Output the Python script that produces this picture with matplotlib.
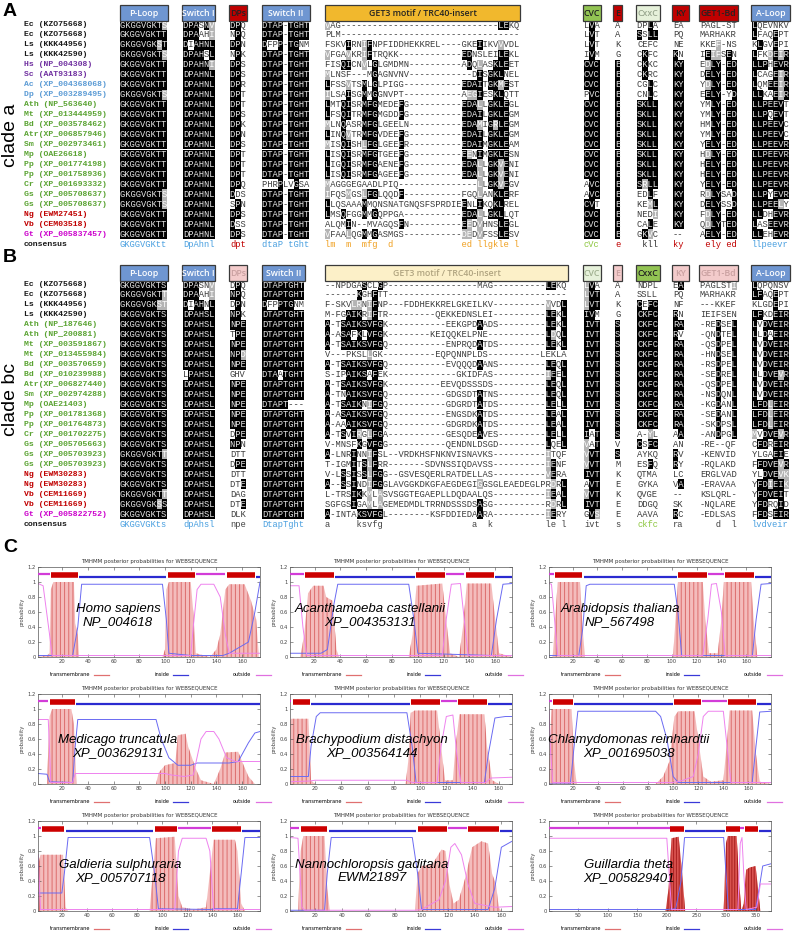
import matplotlib.pyplot as plt
from matplotlib.patches import Rectangle
from matplotlib.lines import Line2D
from collections import Counter

W, H = 794, 931

# ---------------- panel A : clade a ----------------
A_labels = ["Ec (KZO75668)", "Ec (KZO75668)", "Ls (KKK44956)", "Ls (KKK42590)",
            "Hs (NP_004308)", "Sc (AAT93183)", "Ac (XP_004368068)", "Dp (XP_003289495)",
            "Ath (NP_563640)", "Mt (XP_013444959)", "Bd (XP_003578462)", "Atr(XP_006857946)",
            "Sm (XP_002973461)", "Mp (OAE26618)", "Pp (XP_001774198)", "Pp (XP_001758936)",
            "Cr (XP_001693332)", "Gs (XP_005708637)", "Gs (XP_005708637)", "Ng (EWM27451)",
            "Vb (CEM03518)", "Gt (XP_005837457)"]
A_groups = ["bac"] * 4 + ["opi"] * 2 + ["amo"] * 2 + ["pla"] * 11 + ["het"] * 2 + ["cry"]

A_ploop = ["GKGGVGKTS", "GKGGVGKTT", "GKGGVGKST", "GKGGVGKTS", "GKGGVGKTT", "GKGGVGKTT",
           "GKGGVGKTT", "GKGGVGKTS"] + ["GKGGVGKTT"] * 9 + ["GKGGVGKTS", "GKGGVGKTS",
           "GKGGVGKTT", "GKGGVGKTT", "GKGGVGKTT"]
A_sw1 = ["DPASNV", "DPAAHI", "DIAHNL", "DPAHSL", "DPAHNI"] + ["DPAHNL"] * 17
A_dps = ["DPQ", "NPQ", "DPN", "NPK", "DPS", "DPS", "DPR", "DPT", "DPT", "DPS", "DPK",
         "DPN", "DPS", "DPT", "DPT", "DPT", "DPQ", "DDS", "SPN", "DPS", "DSS", "DPS"]
A_sw2 = ["DTAP-TGHT"] * 2 + ["DFPP-TGNM"] + ["DTAP-TGHT"] * 13 + ["PHRPLVGSA"] + ["DTAP-TGHT"] * 5
A_get3 = [
    "VAG" + "-" * 30 + "LEKQ",
    "PLM" + "-" * 34,
    "FSKVIRNIFNPFIDDHEKKREL----GKEIIKVVVDL",
    "VFGAVKRIFTRQKK" + "-" * 12 + "EDNSLEILEKL",
    "FISQICNVLGLGMDMN" + "-" * 10 + "ADQLASKLEET",
    "MLNSF---MGAGNVNV" + "-" * 12 + "DISGKLNEL",
    "LFSSVTSMLGLPIGG" + "-" * 11 + "EDAITGKMEST",
    "ILSAISGMMGGNVPT" + "-" * 11 + "AEGIESKLQTT",
    "LMTQISRMFGMEDEFG" + "-" * 10 + "EDALLGKLEGL",
    "LFSQITRMFGMGDDFG" + "-" * 10 + "EDAILGKLEGM",
    "MLNQASRMFGLGEELN" + "-" * 10 + "EDAMIGRLEGM",
    "LINQVTRMFGVDEEFG" + "-" * 10 + "EDAILGKLEGM",
    "MISQISHLFGLGEEFR" + "-" * 10 + "EDAIMGKLEAM",
    "LISQISRMFGTGEEFG" + "-" * 10 + "EENIMGKLESN",
    "LIGQISRMFGAENEFG" + "-" * 10 + "EDALLGKVENI",
    "LISQISRMFGAGEEFG" + "-" * 10 + "EDALLGKVENI",
    "MAGGGEGAADLPIQ" + "-" * 15 + "LLGKVEGV",
    "IFQSMGSLFGLQQDF" + "-" * 11 + "FGQLANKLERF",
    "LLQSAAAMMQNSNATGNQSFSPRDIEENLIKQKLREL",
    "LMSQFGGMMGQPPGA" + "-" * 11 + "EDALLGKLLQT",
    "ALQMIN--MVAGQSFN" + "-" * 10 + "EEDVHNSLEGL",
    "VFAALQGMMGASMGS" + "-" * 11 + "DEDVFSSLESV",
]
A_cvc = ["LVA", "LVT", "LVT", "IVM", "CVC", "CVC", "CVC", "PVC"] + ["CVC"] * 8 + \
        ["AVC", "AVC", "CVT", "CVC", "CVC", "CVC"]
A_e = ["A", "A", "K", "G"] + ["E"] * 18
A_cxxc = ["DPLA", "SSLL", "CEFC", "CKFC", "CKKC", "CKRC", "CGLC", "CNLC"] + ["SKLL"] * 8 + \
         ["SRLL", "EDLF", "KEML", "NEDI", "CALE", "GKVC"]
A_ky = ["EA", "PQ", "NE", "KN"] + ["KY"] * 17 + ["--"]
A_get1 = ["PAGL-ST", "MARHAKR", "KKEF-NS", "IEIFSEN", "EDLY-ED", "DELY-ED", "YDLY-ED",
          "EELY-YD", "YMLY-ED", "YMLY-ED", "HMLY-ED", "YMLY-ED", "YELY-ED", "HDLY-ED",
          "HELY-ED", "HELY-ED", "YELY-ED", "RDLYSAD", "DELYSSD", "FDLY-ED", "QDLYTED", "AELY-ED"]
A_aloop = ["LQEVNKV", "LFAQEPT", "KLGVEPI", "LFKDEIR", "LLPHEVR", "LCAGEIR", "LQMEEIR",
           "LLKAEIR", "LLPEEVT", "LLPQEVT", "LLPEEVC", "LLPEEVC"] + ["LLPEEVR"] * 5 + \
          ["LLPYEVR", "LLPEELY", "LLDHEVR", "LASEEVR", "LLEHEVR"]
A_consensus = ["GKGGVGKtt", "DpAhnl", "dpt", "dtaP tGht",
               "lm  m  mfg  d" + " " * 13 + "ed llgkle l", "cVc", "e", " kll", "ky",
               " ely ed", "llpeevr"]
A_headers = ["P-Loop", "Switch I", "DPs", "Switch II", "GET3 motif / TRC40-insert", "CVC",
             "E", "CxxC", "KY", "GET1-Bd", "A-Loop"]

# ---------------- panel B : clade bc ----------------
B_labels = ["Ec (KZO75668)", "Ec (KZO75668)", "Ls (KKK44956)", "Ls (KKK42590)",
            "Ath (NP_187646)", "Ath (NP_200881)", "Mt (XP_003591867)", "Mt (XP_013455984)",
            "Bd (XP_003570659)", "Bd (XP_010239988)", "Atr(XP_006827440)", "Sm (XP_002974288)",
            "Mp (OAE21403)", "Pp (XP_001781368)", "Pp (XP_001764873)", "Cr (XP_001702275)",
            "Gs (XP_005705663)", "Gs (XP_005703923)", "Gs (XP_005703923)", "Ng (EWM30283)",
            "Ng (EWM30283)", "Vb (CEM11669)", "Vb (CEM11669)", "Gt (XP_005822752)"]
B_groups = ["bac"] * 4 + ["pla"] * 15 + ["het"] * 4 + ["cry"]

B_ploop = ["GKGGVGKTS", "GKGGVGKTT", "GKGGVGKST"] + ["GKGGVGKTS"] * 14 + \
          ["GKGGVGKTT", "GKGGVGKTS", "GKGGVGKTS", "GKGGVGKTS", "GKGGVGKTT", "GKGGVGKSS", "GKGGVGKTS"]
B_sw1 = ["DPASNV", "DPAAHI", "DIAHNL"] + ["DPAHSL"] * 6 + ["LPAHSL"] + ["DPAHSL"] * 14
B_dps = ["DPQ", "NPQ", "DPN", "NPK", "NPE", "TPE", "NPE", "NPD", "NPE", "GHV", "NPE", "NPE",
         "NPE", "NPE", "NPE", "DPE", "NPN", "DTT", "DPE", "DTT", "DTE", "DAG", "DTE", "DLK"]
B_sw2 = ["DTAPTGHT"] * 2 + ["DFPPTGNM"] + ["DTAPTGHT"] * 6 + ["DTAATGHT"] + \
        ["DTAPTGHT"] * 2 + ["DTAPT---"] + ["DTAPTGHT"] * 11
B_get3 = [
    "--NPDGASCLGP" + "-" * 17 + "MAG" + "-" * 10 + "LEKQ",
    "------KGHFTT" + "-" * 34,
    "F-SKVLRNIFNP" + "---FDDHEKKRELGKEILKV" + "-" * 10 + "VVDL",
    "M-FGAIKRIFTR" + "-" * 9 + "QEKKEDNSLEI" + "-" * 10 + "LEKL",
    "A-TSAIKSVFGK" + "-" * 11 + "EEKGPDAADS" + "-" * 9 + "LEKL",
    "A-ASAFKLVFGK" + "-" * 8 + "KEIQQKELPNE" + "-" * 11 + "LDQL",
    "A-TSAIKSVFGQ" + "-" * 11 + "ENPRQDATDS" + "-" * 9 + "LEKL",
    "V---PKSLLGK-" + "-" * 9 + "EQPQNNPLDS" + "-" * 10 + "LEKLA",
    "A-TSAIKSVFGQ" + "-" * 11 + "EVQQQDAANS" + "-" * 9 + "LEQL",
    "S-IPAIKSAFEK" + "-" * 13 + "GKIDFAS" + "-" * 10 + "IEEL",
    "A-TSAIKSVFGK" + "-" * 10 + "EEVQDSSSDS" + "-" * 10 + "LEQL",
    "A-TNAIKSVFGQ" + "-" * 11 + "GDGSDTATNS" + "-" * 9 + "LEQL",
    "A-TSAIKNIFGQ" + "-" * 11 + "GDGRDTATDS" + "-" * 9 + "LELL",
    "A-ASAIKSVFGQ" + "-" * 11 + "ENGSDKATDS" + "-" * 9 + "LEAL",
    "A-AAAIKSVFGQ" + "-" * 11 + "GDGRDKATDS" + "-" * 9 + "LEAL",
    "A-TSVIRGLFGA" + "-" * 11 + "GESQDEAVES" + "-" * 9 + "LELL",
    "V-MNSFKGVFGG" + "-" * 11 + "QENDNLDSGD" + "-" * 9 + "LQEL",
    "A-LNRINNIFSL" + "--VRDKHSFNKNVISNAVKS" + "-" * 10 + "ITQF",
    "T-IGMITSLFRR" + "-------SDVNSSIQDAVSS" + "-" * 10 + "IENF",
    "V-LSSISSLFGG" + "--GSVESQERLRATDELLAS" + "-" * 10 + "VERA",
    "A--SSINDIFGG" + "LAVGGKDKGFAEGDEGIGGSGLEAEDEGLPRDRL",
    "L-TRSIKKMLAS" + "VSGGTEGAEPLLDQDAALQS" + "-" * 10 + "IEAL",
    "SGFGSIGAMLAG" + "EMEDMDLTRRNDSSSDSASG" + "-" * 10 + "RDRL",
    "A-INTAKSVFGL" + "-" * 8 + "KSFDDIEDAARA" + "-" * 10 + "IERY",
]
B_cvc = ["LVA", "LVT", "LVT", "IVM"] + ["IVT"] * 11 + ["IAT", "VAT", "VVT", "VVT", "IVT",
         "AVT", "VVT", "IVT", "GVS"]
B_e = ["A", "A", "K", "G"] + ["S"] * 12 + ["V", "S", "M", "K", "E", "K", "E", "E"]
B_cxxc = ["NDPL", "SSLL", "CEFC"] + ["CKFC"] * 12 + ["A-YL", "CSFC", "AYKQ", "ESFQ", "QTMA",
          "GYKA", "QVGE", "DDGQ", "AAVA"]
B_ky = ["EA", "PQ", "NF", "RN", "RA", "RV"] + ["RA"] * 9 + ["AA", "AN", "RV", "RY", "LC",
        "VA", "--", "SK", "RC"]
B_get1 = ["PAGLSTI", "MARHAKR", "---KKEF", "IEIFSEN", "-REDSEL", "-QNDTEL", "-QSDPEL",
          "-HNDSEL", "-RSDPEL", "-SEDREL", "-QSDPEL", "-NSDQNL", "-KGDANL", "-SEDANL",
          "-SKDPSL", "-ANDPGL", "-RE--QF", "-KENVID", "-RQLAKD", "ERGLVAD", "-ERAVAA",
          "KSLQRL-", "-NQLARE", "-EDLSAS"]
B_aloop = ["LQPQNSV", "LFAQEPT", "KLGDEPI", "LFKDEIR", "LVDVEIR", "LLDAEIR", "LVDVEIR",
           "LVDVEIR", "LVDVEIR", "LLDVEVR", "LVDVEIR", "LVDVEIR", "LFDLEIR", "LFDLEIR",
           "LFDLEIR", "MVDVEVR", "CFDREIR", "YLGAEIE", "FFDVEVR", "YLDVEVK", "YFDIEIK",
           "YFDVEIT", "YFDRQID", "FFDSEIR"]
B_consensus = ["GKGGVGKts", "dpAhsl", "npe", "DtapTght",
               "a" + " " * 5 + "ksvfg" + " " * 17 + "a  k" + " " * 10 + "le l",
               "ivt", "s", "ckfc", "ra", "   d  l", "lvdveir"]

# ---------------- panel C : TMHMM posteriors ----------------
hs_name, hs_acc, hs_len = "Homo sapiens", "NP_004618", 174
hs_topo = [(1, 10, "o"), (11, 32, "t"), (33, 101, "i"), (102, 123, "t"), (124, 147, "o"),
           (148, 170, "t"), (171, 174, "i")]
hs_tm = [(1, 0), (8, 0.02), (10, 0.05), (11, 0.9), (13, 1), (29, 1), (30, 0.45), (32, 0.3),
         (33, 0), (98, 0), (100, 0.1), (101, 0.9), (103, 1), (120, 1), (122, 0.6), (124, 0.05),
         (135, 0), (140, 0.1), (143, 0.3), (147, 0.9), (150, 0.97), (162, 0.97), (167, 0.75),
         (171, 0.5), (173, 0.05)]
hs_in = [(1, 0.02), (28, 0.02), (32, 0.4), (35, 0.97), (98, 0.97), (101, 0.5), (103, 0.05),
         (120, 0.02), (145, 0.02), (150, 0.05), (165, 0.2), (170, 0.6), (174, 1.0)]
hs_out = [(1, 0.98), (5, 0.95), (10, 0.3), (12, 0.02), (120, 0.02), (122, 0.4), (125, 0.9),
          (128, 0.97), (138, 0.97), (143, 0.8), (147, 0.3), (150, 0.05), (174, 0.05)]

ac_name, ac_acc, ac_len = "Acanthamoeba castellanii", "XP_004353131", 173
ac_topo = [(1, 12, "o"), (13, 35, "t"), (36, 98, "i"), (99, 121, "t"), (122, 136, "o"),
           (137, 159, "t"), (160, 173, "i")]
ac_tm = [(1, 0), (9, 0), (12, 0.3), (15, 0.85), (19, 0.95), (27, 0.95), (29, 0.8), (34, 0.75),
         (37, 0.1), (39, 0), (93, 0), (96, 0.3), (99, 0.95), (119, 0.98), (122, 0.5),
         (125, 0.05), (132, 0), (135, 0.4), (138, 0.98), (157, 0.98), (160, 0.5), (163, 0.05),
         (173, 0)]
ac_in = [(1, 0.05), (25, 0.05), (30, 0.1), (35, 0.7), (38, 0.97), (93, 0.97), (97, 0.5),
         (100, 0.05), (157, 0.02), (161, 0.5), (166, 0.97), (173, 0.98)]
ac_out = [(1, 0.95), (8, 0.95), (11, 0.4), (14, 0.02), (119, 0.02), (122, 0.5), (126, 0.97),
          (133, 0.98), (136, 0.5), (139, 0.02), (173, 0.02)]

at_name, at_acc, at_len = "Arabidopsis thaliana", "NP_567498", 180
at_topo = [(1, 5, "o"), (6, 28, "t"), (29, 104, "i"), (105, 128, "t"), (129, 142, "o"),
           (143, 166, "t"), (167, 180, "i")]
at_tm = [(1, 0), (4, 0), (6, 0.5), (8, 1.0), (26, 1.0), (28, 0.4), (30, 0), (101, 0),
         (103, 0.5), (105, 1), (125, 1), (127, 0.5), (130, 0.05), (137, 0.05), (140, 0.5),
         (142, 1), (164, 1), (166, 0.5), (169, 0), (180, 0)]
at_in = [(1, 0.02), (25, 0.02), (28, 0.35), (31, 0.95), (34, 0.97), (102, 0.97), (105, 0.6),
         (108, 0.02), (165, 0.02), (168, 0.5), (172, 0.97), (180, 0.98)]
at_out = [(1, 0.98), (3, 0.97), (6, 0.4), (8, 0.02), (125, 0.02), (129, 0.5), (132, 0.97),
          (136, 0.98), (140, 0.6), (143, 0.02), (180, 0.02)]

mt_name, mt_acc, mt_len = "Medicago truncatula", "XP_003629131", 174
mt_topo = [(1, 9, "o"), (10, 30, "t"), (31, 174, "i")]
mt_tm = [(1, 0), (8, 0), (10, 0.9), (12, 1), (27, 1), (29, 0.8), (31, 0), (93, 0), (95, 0.15),
         (100, 0.25), (108, 0.28), (110, 0.65), (116, 0.67), (118, 0.5), (124, 0.2), (128, 0.05),
         (138, 0), (143, 0.2), (147, 0.42), (157, 0.43), (160, 0.3), (165, 0.1), (170, 0),
         (174, 0)]
mt_in = [(1, 0.14), (8, 0.13), (10, 0.03), (28, 0.02), (30, 0.5), (32, 0.86), (93, 0.86),
         (97, 0.6), (103, 0.35), (110, 0.25), (120, 0.25), (125, 0.28), (150, 0.28), (157, 0.3),
         (165, 0.55), (170, 0.68), (174, 0.7)]
mt_out = [(1, 0.86), (9, 0.86), (11, 0.02), (28, 0.02), (30, 0.14), (100, 0.14), (105, 0.12),
          (115, 0.1), (122, 0.12), (128, 0.6), (132, 0.7), (138, 0.7), (142, 0.6), (148, 0.35),
          (155, 0.3), (174, 0.3)]

bd_name, bd_acc, bd_len = "Brachypodium distachyon", "XP_003564144", 170
bd_topo = [(1, 2, "o"), (3, 16, "t"), (17, 92, "i"), (93, 115, "t"), (116, 128, "o"),
           (129, 151, "t"), (152, 170, "i")]
bd_tm = [(1, 0.85), (2, 0.87), (15, 0.87), (17, 0.05), (20, 0), (89, 0), (91, 0.3), (93, 0.95),
         (96, 0.98), (113, 0.98), (116, 0.5), (119, 0.05), (125, 0.05), (127, 0.5), (130, 0.93),
         (149, 0.93), (151, 0.5), (155, 0.05), (160, 0), (170, 0)]
bd_in = [(1, 0.1), (15, 0.1), (17, 0.5), (21, 0.9), (24, 0.95), (90, 0.95), (94, 0.5),
         (97, 0.02), (149, 0.02), (152, 0.4), (157, 0.88), (165, 0.9), (170, 0.9)]
bd_out = [(1, 0.03), (16, 0.04), (20, 0.05), (90, 0.05), (94, 0.02), (113, 0.02), (116, 0.5),
          (120, 0.9), (125, 0.92), (128, 0.4), (131, 0.02), (150, 0.02), (154, 0.08), (170, 0.09)]

cr_name, cr_acc, cr_len = "Chlamydomonas reinhardtii", "XP_001695038", 178
cr_topo = [(1, 3, "o"), (4, 20, "t"), (21, 100, "i"), (101, 122, "t"), (123, 143, "o"),
           (144, 166, "t"), (167, 178, "i")]
cr_tm = [(1, 0.3), (3, 1), (19, 1), (21, 0.3), (23, 0), (86, 0), (92, 0.1), (97, 0.3),
         (101, 0.9), (104, 0.97), (117, 0.97), (120, 0.6), (124, 0.1), (130, 0.03), (140, 0.05),
         (142, 0.4), (145, 0.98), (163, 0.98), (166, 0.4), (169, 0.03), (178, 0)]
cr_in = [(1, 0), (18, 0), (21, 0.5), (24, 0.97), (86, 0.97), (90, 0.9), (95, 0.6), (100, 0.1),
         (104, 0.02), (163, 0.02), (166, 0.5), (169, 0.96), (178, 0.97)]
cr_out = [(1, 0.98), (2, 0.5), (4, 0.02), (100, 0.02), (108, 0.05), (116, 0.1), (120, 0.4),
          (124, 0.9), (128, 0.97), (140, 0.97), (143, 0.5), (146, 0.02), (178, 0.02)]

gs_name, gs_acc, gs_len = "Galdieria sulphuraria", "XP_005707118", 178
gs_topo = [(1, 3, "o"), (4, 22, "t"), (23, 93, "i"), (94, 112, "t"), (113, 139, "o"),
           (140, 163, "t"), (164, 178, "i")]
gs_tm = [(1, 0.6), (3, 0.75), (21, 0.75), (23, 0.05), (25, 0), (90, 0), (92, 0.4), (95, 0.97),
         (110, 0.99), (113, 0.2), (116, 0.05), (125, 0.02), (135, 0.05), (138, 0.5), (141, 0.95),
         (158, 0.95), (160, 0.8), (163, 0.1), (166, 0), (178, 0)]
gs_in = [(1, 0.24), (20, 0.24), (22, 0.5), (25, 0.98), (90, 0.98), (94, 0.5), (97, 0.03),
         (138, 0.02), (143, 0.03), (160, 0.03), (163, 0.5), (166, 0.98), (178, 0.98)]
gs_out = [(1, 0.75), (3, 0.02), (92, 0.02), (110, 0.02), (113, 0.8), (116, 0.97), (135, 0.97),
          (138, 0.8), (141, 0.02), (178, 0.02)]

ng_name, ng_acc, ng_len = "Nannochloropsis gaditana", "EWM21897", 168
ng_topo = [(1, 8, "o"), (9, 29, "t"), (30, 96, "i"), (97, 119, "t"), (120, 134, "o"),
           (135, 158, "t"), (159, 168, "i")]
ng_tm = [(1, 0), (7, 0), (9, 0.8), (11, 1), (27, 1), (29, 0.3), (31, 0), (95, 0), (97, 0.5),
         (100, 0.6), (108, 0.62), (115, 0.82), (118, 0.8), (121, 0.35), (124, 0.1), (128, 0.15),
         (133, 0.45), (138, 0.85), (145, 0.93), (150, 0.9), (153, 0.5), (156, 0.35), (158, 0.05),
         (160, 0), (168, 0)]
ng_in = [(1, 0.01), (27, 0.01), (29, 0.5), (32, 0.98), (93, 0.98), (97, 0.5), (100, 0.02),
         (150, 0.02), (155, 0.3), (160, 0.85), (168, 0.93)]
ng_out = [(1, 0.98), (7, 0.97), (10, 0.05), (12, 0.01), (95, 0.01), (100, 0.02), (113, 0.15),
          (118, 0.4), (122, 0.85), (125, 0.9), (130, 0.75), (135, 0.35), (140, 0.1), (155, 0.05),
          (168, 0.06)]

gt_name, gt_acc, gt_len = "Guillardia theta", "XP_005829401", 376
gt_topo = [(1, 205, "o"), (206, 229, "t"), (230, 299, "i"), (300, 323, "t"), (324, 331, "o"),
           (332, 354, "t"), (355, 376, "i")]
gt_tm = [(1, 0), (198, 0), (203, 0.3), (208, 0.97), (220, 0.99), (226, 0.5), (231, 0), (296, 0),
         (300, 0.9), (303, 1), (318, 1), (322, 0.4), (326, 0), (330, 0.1), (334, 0.55),
         (340, 0.58), (350, 0.6), (354, 0.3), (358, 0), (376, 0)]
gt_in = [(1, 0.02), (200, 0.02), (215, 0.03), (224, 0.4), (230, 0.98), (296, 0.98), (300, 0.5),
         (304, 0.02), (350, 0.02), (356, 0.3), (362, 0.6), (376, 0.63)]
gt_out = [(1, 0.97), (200, 0.97), (204, 0.5), (208, 0.02), (320, 0.02), (324, 0.9), (327, 0.98),
          (330, 0.5), (334, 0.02), (352, 0.05), (358, 0.36), (376, 0.36)]

# ---------------- style / layout ----------------
MONO = "Liberation Mono"
SANS = "Liberation Sans"
FS = 6.3
LFS = 5.9                          # label font size
CW = 0.6 * FS * 100 / 72          # character advance in pixels
ROW = 9.96
label_colors = {"bac": "#1a1a1a", "opi": "#7030a0", "amo": "#5b9bd5", "pla": "#5aa332",
                "het": "#c00000", "cry": "#cc00cc"}
BLUE, RED, ORANGE, GREEN = "#6f96d1", "#c00000", "#f1b82d", "#92c353"
PINK, PALEY, PALEG = "#f3cbcb", "#fcf0c8", "#e6f1da"
block_x = [120, 183, 230, 262, 325, 584, 615, 637, 673, 700, 752]
A_boxes = [(120, 168, BLUE, "white"), (182, 215, BLUE, "white"), (229, 247, RED, "#222222"),
           (262, 310, BLUE, "white"), (325, 520, ORANGE, "#222222"), (583, 601, GREEN, "#222222"),
           (613, 622, RED, "#222222"), (636, 660, PALEG, "#9aa890"), (672, 689, RED, "#222222"),
           (699, 738, RED, "#222222"), (751, 790, BLUE, "white")]
B_boxes = [(120, 168, BLUE, "white"), (182, 215, BLUE, "white"), (229, 247, PINK, "#c9a0a0"),
           (262, 305, BLUE, "white"), (325, 568, PALEY, "#b0a480"), (583, 601, PALEG, "#a0b090"),
           (613, 622, PINK, "#c9a0a0"), (636, 660, GREEN, "#222222"), (672, 689, PINK, "#c9a0a0"),
           (699, 738, PINK, "#c9a0a0"), (751, 790, BLUE, "white")]
A_cons_colors = ["#4aa0e0", "#4aa0e0", RED, "#4aa0e0", "#f0a020", "#8dc63f", RED, "#333333",
                 RED, RED, "#4aa0e0"]
B_cons_colors = ["#4aa0e0", "#4aa0e0", "#444444", "#4aa0e0", "#444444", "#444444", "#444444",
                 "#8dc63f", "#444444", "#444444", "#4aa0e0"]

SIMILAR = ["FYW", "ILVM", "RK", "DE", "GA", "ST", "NQ"]


def shade(block, thr=0.4):
    n = len(block)
    width = max(len(s) for s in block)
    block = [s.ljust(width, "-") for s in block]
    marks = [[0] * width for _ in block]
    for j in range(width):
        col = [s[j] for s in block]
        res = [c for c in col if c != "-"]
        if not res:
            continue
        top, cnt = Counter(res).most_common(1)[0]
        if cnt < thr * n:
            continue
        grp = next((g for g in SIMILAR if top in g), top)
        for i, c in enumerate(col):
            if c == top:
                marks[i][j] = 2
            elif c != "-" and c in grp:
                marks[i][j] = 1
    return block, marks


def draw_panel(ax, y0, labels, groups, blocks, consensus, cons_colors, boxes, headers, hy):
    for (x0, x1, fc, tc), name in zip(boxes, headers):
        ax.add_patch(Rectangle((x0, hy - 8), x1 - x0, 16, facecolor=fc, edgecolor="#3a3a3a",
                               lw=0.9, zorder=2))
        ax.text((x0 + x1) / 2, hy, name, ha="center", va="center", color=tc, fontsize=6.3,
                family="Open Sans", fontweight="semibold", zorder=3)
    for i, (lab, g) in enumerate(zip(labels, groups)):
        ax.text(24, y0 + i * ROW, lab, family=MONO, fontsize=LFS, fontweight="bold",
                color=label_colors[g], va="center", ha="left")
    ax.text(24, y0 + len(labels) * ROW, "consensus", family=MONO, fontsize=LFS,
            fontweight="bold", color="#1a1a1a", va="center", ha="left")
    for bx, blk, cons, cc in zip(block_x, blocks, consensus, cons_colors):
        seqs, marks = shade(blk)
        for i, (s, m) in enumerate(zip(seqs, marks)):
            y = y0 + i * ROW
            j = 0
            while j < len(s):
                k = j
                while k < len(s) and m[k] == m[j]:
                    k += 1
                if m[j]:
                    ax.add_patch(Rectangle((bx + j * CW, y - ROW / 2), (k - j) * CW, ROW,
                                           facecolor="black" if m[j] == 2 else "#b4b4b4",
                                           lw=0, zorder=1))
                j = k
            for level, col in ((2, "#e4e4e4"), (1, "white"), (0, "#3c3c3c")):
                txt = "".join(c if mk == level else " " for c, mk in zip(s, m))
                if txt.strip():
                    ax.text(bx, y, txt, family=MONO, fontsize=FS, color=col, va="center",
                            ha="left", zorder=3)
        ax.text(bx, y0 + len(labels) * ROW, cons, family=MONO, fontsize=FS, color=cc,
                va="center", ha="left", zorder=3)


fig = plt.figure(figsize=(W / 100, H / 100), dpi=100)
ax0 = fig.add_axes([0, 0, 1, 1])
ax0.set_xlim(0, W)
ax0.set_ylim(H, 0)
ax0.axis("off")

draw_panel(ax0, 25, A_labels, A_groups,
           [A_ploop, A_sw1, A_dps, A_sw2, A_get3, A_cvc, A_e, A_cxxc, A_ky, A_get1, A_aloop],
           A_consensus, A_cons_colors, A_boxes, A_headers, 13)
draw_panel(ax0, 285, B_labels, B_groups,
           [B_ploop, B_sw1, B_dps, B_sw2, B_get3, B_cvc, B_e, B_cxxc, B_ky, B_get1, B_aloop],
           B_consensus, B_cons_colors, B_boxes, A_headers, 273)

for letter, y in (("A", 11), ("B", 257), ("C", 548)):
    ax0.text(3, y, letter, family=SANS, fontsize=14, fontweight="bold", va="center")
ax0.text(11, 135, "clade a", family=SANS, fontsize=14, rotation=90, ha="center", va="center")
ax0.text(11, 400, "clade bc", family=SANS, fontsize=14, rotation=90, ha="center", va="center")

# ---------------- TMHMM grid ----------------
plt.rcParams["hatch.linewidth"] = 0.7
plots = [
    (hs_name, hs_acc, hs_len, hs_topo, hs_tm, hs_in, hs_out),
    (ac_name, ac_acc, ac_len, ac_topo, ac_tm, ac_in, ac_out),
    (at_name, at_acc, at_len, at_topo, at_tm, at_in, at_out),
    (mt_name, mt_acc, mt_len, mt_topo, mt_tm, mt_in, mt_out),
    (bd_name, bd_acc, bd_len, bd_topo, bd_tm, bd_in, bd_out),
    (cr_name, cr_acc, cr_len, cr_topo, cr_tm, cr_in, cr_out),
    (gs_name, gs_acc, gs_len, gs_topo, gs_tm, gs_in, gs_out),
    (ng_name, ng_acc, ng_len, ng_topo, ng_tm, ng_in, ng_out),
    (gt_name, gt_acc, gt_len, gt_topo, gt_tm, gt_in, gt_out),
]
col_left = [38, 290, 549]
row_top = [567, 694, 821]
label_pos = [(0.36, 0.46), (0.36, 0.46), (0.32, 0.46), (0.36, 0.42), (0.37, 0.42),
             (0.36, 0.42), (0.37, 0.44), (0.37, 0.44), (0.36, 0.44)]
topo_style = {"o": (1.11, "#d23cd8", 1.6), "t": (1.09, "#cc0000", 4.0), "i": (1.07, "#2b2bd0", 1.6)}

for k, (name, acc, length, topo, tm, inside, outside) in enumerate(plots):
    left, top = col_left[k % 3], row_top[k // 3]
    ax = fig.add_axes([left / W, 1 - (top + 90) / H, 222 / W, 90 / H])
    dense = length > 250
    tx, ty = zip(*tm)
    ax.fill_between(tx, ty, 0, facecolor="#d9534f" if dense else "#f4bcbc",
                    edgecolor="#a81e1e" if dense else "#dc6c6c",
                    hatch="||||||" if dense else "||||", linewidth=0, zorder=1)
    ax.plot(*zip(*inside), color="#6a6af2", lw=0.7, zorder=2)
    ax.plot(*zip(*outside), color="#ee82ee", lw=0.7, zorder=2)
    for a, b, kind in topo:
        yv, col, lw = topo_style[kind]
        ax.plot([a, b], [yv, yv], color=col, lw=lw, solid_capstyle="butt", zorder=3)
    ax.set_xlim(1, length)
    ax.set_ylim(0, 1.2)
    ax.set_yticks([0, 0.2, 0.4, 0.6, 0.8, 1.0, 1.2])
    ax.set_yticklabels(["0", "0.2", "0.4", "0.6", "0.8", "1", "1.2"])
    ax.set_xticks(range(50, 351, 50) if dense else range(20, 161, 20))
    ax.tick_params(direction="in", length=2, width=0.4, labelsize=3.8, pad=1.5,
                   top=True, right=True, colors="#444444")
    for sp in ax.spines.values():
        sp.set_linewidth(0.5)
        sp.set_color("#555555")
    ax.set_ylabel("probability", fontsize=3.8, labelpad=2, color="#444444")
    ax.set_title("TMHMM posterior probabilities for WEBSEQUENCE", fontsize=4.0, pad=3,
                 color="#333333")
    handles = [Line2D([], [], color="#e07070", lw=0.9), Line2D([], [], color="#3a3ad8", lw=0.9),
               Line2D([], [], color="#e070e0", lw=0.9)]
    ax.legend(handles, ["transmembrane", "inside", "outside"], loc="upper center",
              bbox_to_anchor=(0.55, -0.12), ncol=3, frameon=False, fontsize=3.6,
              markerfirst=False, columnspacing=9, handlelength=3, handletextpad=0.8)
    fx, fy = label_pos[k]
    ax.text(fx, fy, f"{name}\n{acc}", transform=ax.transAxes, ha="center", va="center",
            fontsize=9.5, style="italic", family=SANS, linespacing=1.15, zorder=5)

fig.savefig("out.png", dpi=100)
